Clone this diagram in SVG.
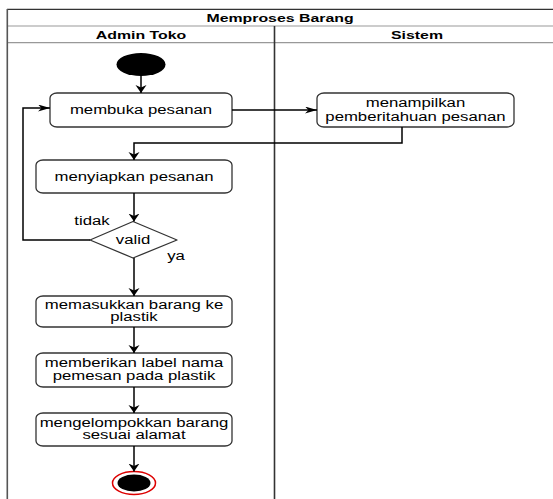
<svg xmlns="http://www.w3.org/2000/svg" width="553" height="499" viewBox="0 0 553 499">
<style>
.lbl{font-family:"Liberation Sans",Arial,sans-serif;font-size:12.3px;fill:#000;text-anchor:middle}
.hdr{font-family:"Liberation Sans",Arial,sans-serif;font-size:11.5px;font-weight:bold;fill:#000;text-anchor:middle}
.box{fill:#fff;stroke:#333;stroke-width:1.3}
.con{fill:none;stroke:#000;stroke-width:1.5}
.lane{stroke:#999;stroke-width:1.2;fill:none}
</style>
<defs>
<marker id="aH" markerUnits="userSpaceOnUse" markerWidth="12" markerHeight="8" refX="12" refY="3.5" orient="auto"><path d="M0,0 L12,3.5 L0,7 L3.5,3.5 z" fill="#000"/></marker>
<marker id="aV" markerUnits="userSpaceOnUse" markerWidth="8" markerHeight="12" refX="8" refY="5.5" orient="auto"><path d="M0,0 L8,5.5 L0,11 L2.5,5.5 z" fill="#000"/></marker>
</defs>
<rect width="553" height="499" fill="#fff"/>
<g id="swimlane">
<line x1="7" y1="9.3" x2="553" y2="9.3" stroke="#333" stroke-width="1.3"/>
<line class="lane" x1="7" y1="26" x2="553" y2="26"/>
<line class="lane" x1="7" y1="42.7" x2="553" y2="42.7"/>
<line x1="7.3" y1="9" x2="7.3" y2="499" stroke="#555" stroke-width="1.6"/>
<line x1="274.5" y1="26" x2="274.5" y2="499" stroke="#333" stroke-width="1.6"/>
<text class="hdr" transform="translate(280,21.8) scale(1.38,1)">Memproses Barang</text>
<text class="hdr" transform="translate(141,38.8) scale(1.38,1)">Admin Toko</text>
<text class="hdr" transform="translate(417,38.8) scale(1.38,1)">Sistem</text>
</g>
<g id="start"><ellipse cx="141" cy="64.5" rx="24.5" ry="11.5" fill="#000"/></g>
<g id="membuka"><rect class="box" x="50" y="93" width="182" height="34" rx="7" ry="5"/><text class="lbl" transform="translate(141,114.3) scale(1.36,1)">membuka pesanan</text></g>
<g id="menampilkan"><rect class="box" x="317" y="93" width="197" height="34" rx="7" ry="5"/><text class="lbl" transform="translate(415.5,107.3) scale(1.36,1)">menampilkan</text><text class="lbl" transform="translate(415.5,121.3) scale(1.36,1)">pemberitahuan pesanan</text></g>
<g id="menyiapkan"><rect class="box" x="36" y="160" width="196" height="33" rx="7" ry="5"/><text class="lbl" transform="translate(134,181.3) scale(1.36,1)">menyiapkan pesanan</text></g>
<g id="valid"><path class="box" d="M90,240 L133,221.5 L177,240 L133,258 Z" stroke-linejoin="round"/><text class="lbl" transform="translate(133,244.3) scale(1.36,1)">valid</text></g>
<g id="memasukkan"><rect class="box" x="36" y="296" width="196" height="31" rx="7" ry="5"/><text class="lbl" transform="translate(134,309.3) scale(1.36,1)">memasukkan barang ke</text><text class="lbl" transform="translate(134,321.3) scale(1.36,1)">plastik</text></g>
<g id="memberikan"><rect class="box" x="36" y="353" width="196" height="34" rx="7" ry="5"/><text class="lbl" transform="translate(134,367.3) scale(1.36,1)">memberikan label nama</text><text class="lbl" transform="translate(134,380.3) scale(1.36,1)">pemesan pada plastik</text></g>
<g id="mengelompokkan"><rect class="box" x="36" y="413" width="196" height="33" rx="7" ry="5"/><text class="lbl" transform="translate(134,427.3) scale(1.36,1)">mengelompokkan barang</text><text class="lbl" transform="translate(134,439.3) scale(1.36,1)">sesuai alamat</text></g>
<g id="end"><ellipse cx="134" cy="483" rx="21.5" ry="11.5" fill="#fff" stroke="#d00" stroke-width="1.5"/><ellipse cx="134" cy="483" rx="16.5" ry="8.5" fill="#000"/></g>
<g id="connectors">
<path class="con" d="M141,76 L141,93" marker-end="url(#aV)"/>
<path class="con" d="M232,110 L317,110" marker-end="url(#aH)"/>
<path class="con" d="M402,127 L402,143 L134,143 L134,160" marker-end="url(#aV)"/>
<path class="con" d="M134,193 L134,221.5" marker-end="url(#aV)"/>
<path class="con" d="M90,240 L23,240 L23,108 L50,108" marker-end="url(#aH)"/>
<path class="con" d="M134,258 L134,296" marker-end="url(#aV)"/>
<path class="con" d="M134,327 L134,353" marker-end="url(#aV)"/>
<path class="con" d="M134,387 L134,413" marker-end="url(#aV)"/>
<path class="con" d="M134,446 L134,471.5" marker-end="url(#aV)"/>
<text class="lbl" transform="translate(92,225.3) scale(1.36,1)">tidak</text>
<text class="lbl" transform="translate(176,260.3) scale(1.36,1)">ya</text>
</g>
</svg>
